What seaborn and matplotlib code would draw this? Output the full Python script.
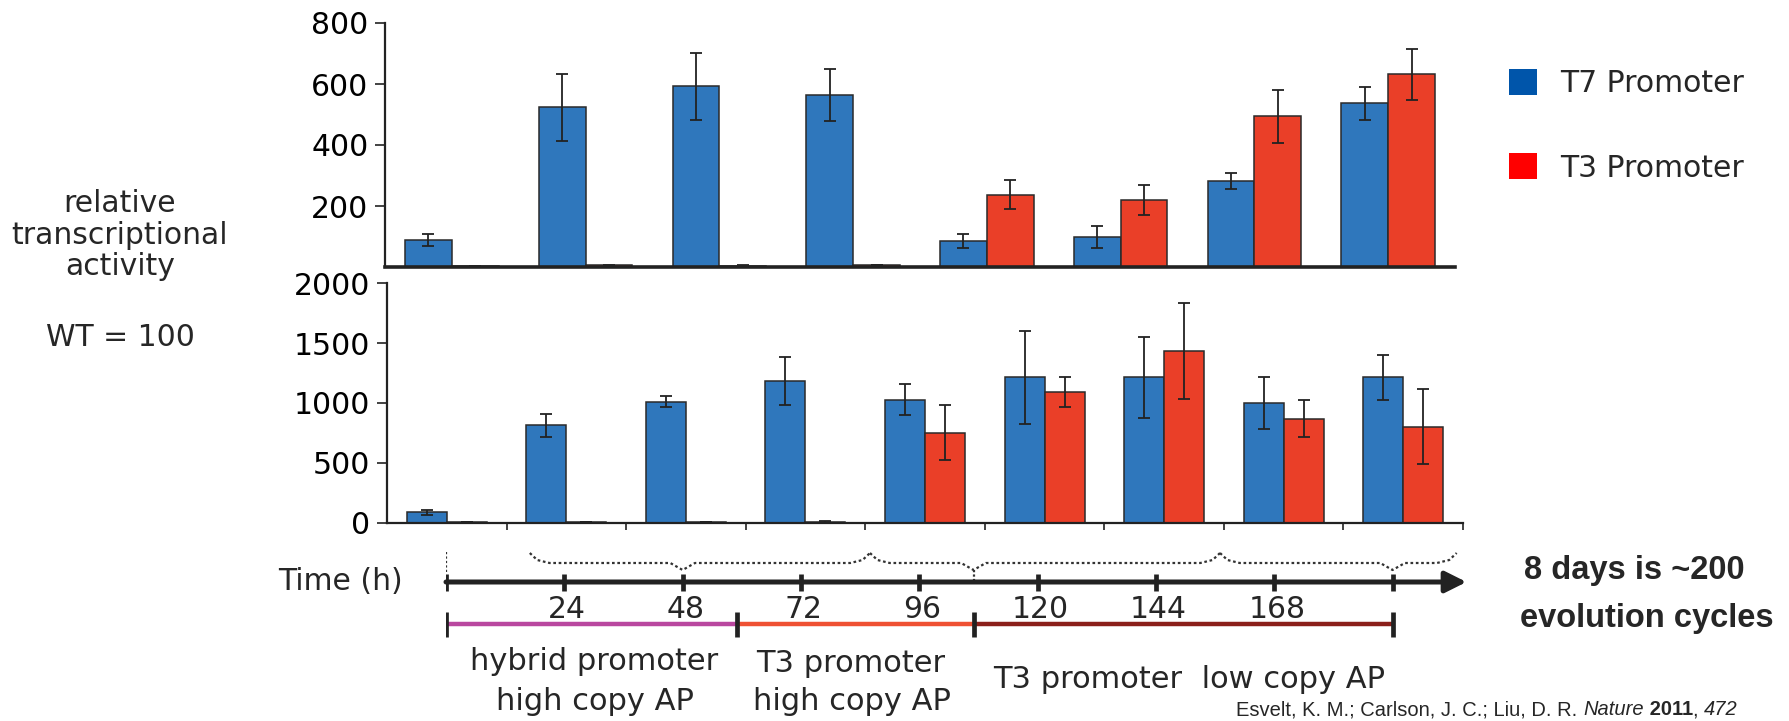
import numpy as np
import pandas as pd
import matplotlib
matplotlib.use('Agg')
import matplotlib.pyplot as plt
from matplotlib.patches import Patch
from matplotlib.text import Annotation
import seaborn as sns

# ---- data ----
top_groups = ['1', '2', '3', '4', '5', '6', '7', '8']
t7_top = [88, 524, 593, 565, 85, 99, 282, 537]
t7_top_err = [20, 110, 110, 85, 23, 37, 25, 54]
t3_top = [2, 5, 3, 7, 237, 219, 494, 632]
t3_top_err = [0, 3, 5, 0, 48, 50, 87, 83]

bot_groups = ['1', '2', '3', '4', '5', '6', '7', '8', '9']
t7_bot = [88, 814, 1010, 1181, 1029, 1214, 1214, 1001, 1214]
t7_bot_err = [23, 95, 47, 200, 130, 385, 340, 215, 187]
t3_bot = [5, 10, 10, 12, 753, 1090, 1437, 869, 803]
t3_bot_err = [0, 0, 0, 8, 228, 127, 400, 156, 313]

series = ['T7 Promoter', 'T3 Promoter']
bar_colors = {'T7 Promoter': '#2f77bc', 'T3 Promoter': '#ea3f28'}
legend_colors = ['#0055aa', '#ff0000']

time_ticks = [24, 48, 72, 96, 120, 144, 168]
# (start h, end h, colour) of the promoter / copy-number phases
phases = [(0, 59, '#b9479f'), (59, 107, '#ef5133'), (107, 192, '#8b1f1a')]
# dotted braces above the time axis: (start, tip, end) in hours
braces = [(17, 48, 86), (86, 107, 157), (157, 192, 205)]

W, H = 1790, 721


def px(x, y):
    return x / W, 1 - y / H


sns.set_style('white')
plt.rcParams['font.family'] = ['DejaVu Sans']
plt.rcParams['font.size'] = 21.5

fig = plt.figure(figsize=(W / 100, H / 100), dpi=100)


def bar_panel(rect, groups, t7, t7e, t3, t3e, width):
    ax = fig.add_axes(rect)
    df = pd.DataFrame({
        'group': groups * 2,
        'promoter': [series[0]] * len(groups) + [series[1]] * len(groups),
        'value': t7 + t3,
    })
    sns.barplot(data=df, x='group', y='value', hue='promoter', order=groups,
                hue_order=series, palette=bar_colors, width=width, saturation=1,
                errorbar=None, edgecolor='#2a2a2a', linewidth=1.1,
                legend=False, ax=ax)
    for cont, errs in zip(ax.containers, [t7e, t3e]):
        xs = [b.get_x() + b.get_width() / 2 for b in cont]
        hs = [b.get_height() for b in cont]
        ax.errorbar(xs, hs, yerr=errs, fmt='none', ecolor='#222222',
                    elinewidth=1.3, capsize=4, capthick=1.3, zorder=5)
    ax.set_xlabel('')
    ax.set_ylabel('')
    ax.set_xlim(-0.5, len(groups) - 0.5)
    sns.despine(ax=ax)
    for s in ['left', 'bottom']:
        ax.spines[s].set_color('#222222')
    ax.tick_params(axis='y', direction='out', length=7, width=1.2, pad=5,
                   labelsize=21.5, left=True, colors='#222222', labelcolor='black')
    return ax


# top panel
l, b = px(385, 267)
ax1 = bar_panel([l, b, (1455 - 385) / W, (267 - 23) / H], top_groups,
                t7_top, t7_top_err, t3_top, t3_top_err, 0.7)
ax1.set_ylim(0, 800)
ax1.set_yticks([200, 400, 600, 800])
ax1.set_xticks([])
ax1.spines['left'].set_linewidth(1.6)
ax1.spines['bottom'].set_linewidth(2.6)

# bottom panel
l, b = px(387, 523)
ax2 = bar_panel([l, b, (1463 - 387) / W, (523 - 283) / H], bot_groups,
                t7_bot, t7_bot_err, t3_bot, t3_bot_err, 0.67)
ax2.set_ylim(0, 2000)
ax2.set_yticks([0, 500, 1000, 1500, 2000])
ax2.set_xticks(np.arange(len(bot_groups)) + 0.5)
ax2.set_xticklabels([])
ax2.tick_params(axis='x', direction='out', length=5, width=1.2, bottom=True,
                colors='#222222')
ax2.spines['left'].set_linewidth(1.6)
ax2.spines['bottom'].set_linewidth(1.6)

# legend
handles = [Patch(facecolor=c, edgecolor='none', label=s)
           for c, s in zip(legend_colors, series)]
fig.legend(handles=handles, loc='upper left', bbox_to_anchor=px(1509, 69),
           frameon=False, fontsize=21.5, handlelength=0.95, handleheight=0.95,
           handletextpad=0.75, labelspacing=1.85, borderpad=0, borderaxespad=0)

# left label
fig.text(*px(120, 235), 'relative\ntranscriptional\nactivity', ha='center',
         va='center', fontsize=21.5, linespacing=1.12)
fig.text(*px(120, 338), 'WT = 100', ha='center', va='center', fontsize=21.5)

# time axis
hpx = 4.93  # pixels per hour
tl, tb = px(446, 645)
axt = fig.add_axes([tl, tb, 210 * hpx / W, 105 / H])
axt.set_xlim(0, 210)
axt.set_ylim(645, 540)
axt.axis('off')

axt.annotate('', xy=(207, 582), xytext=(0, 582),
             arrowprops=dict(arrowstyle='-|>', lw=3.6, color='#222222',
                             mutation_scale=32, shrinkA=0, shrinkB=0))
for h in [0] + time_ticks + [192]:
    axt.plot([h, h], [574, 591], color='#222222', lw=3.4, solid_capstyle='butt')
for h in time_ticks:
    axt.text(h + 0.5, 610, str(h), ha='center', va='center', fontsize=21.5)

for a, e, c in phases:
    axt.plot([a, e], [624, 624], color=c, lw=3.2, solid_capstyle='butt')
for h in [0, 59, 107, 192]:
    axt.plot([h, h], [612, 637], color='#222222', lw=3.4, solid_capstyle='butt')

# dotted braces
axt.plot([0, 0], [552, 574], color='#333333', lw=1.6, ls=(0, (1, 1)))
for s, t, e in braces:
    xs = [s, s + 1.5, s + 4, t - 2.5, t, t + 2.5, e - 4, e - 1.5, e]
    ys = [553, 560, 563, 563, 570, 563, 563, 560, 553]
    axt.plot(xs, ys, color='#333333', lw=1.6, ls=(0, (1.2, 1.2)))
axt.plot([107, 107], [570, 580], color='#333333', lw=1.6, ls=(0, (1, 1)))

fig.text(*px(403, 582), 'Time (h)', ha='right', va='center', fontsize=21.5)

fig.text(*px(594, 662), 'hybrid promoter', ha='center', va='center', fontsize=22)
fig.text(*px(595, 701), 'high copy AP', ha='center', va='center', fontsize=22)
fig.text(*px(851, 663), 'T3 promoter', ha='center', va='center', fontsize=22)
fig.text(*px(852, 702), 'high copy AP', ha='center', va='center', fontsize=22)
fig.text(*px(1189, 679), 'T3 promoter  low copy AP', ha='center', va='center',
         fontsize=22)

fig.text(*px(1634, 570), '8 days is ~200', ha='center', va='center',
         fontsize=23.5, fontweight='bold', family='Liberation Sans')
fig.text(*px(1647, 618), 'evolution cycles', ha='center', va='center',
         fontsize=23.5, fontweight='bold', family='Liberation Sans')

# citation, pieces chained one after the other
cit = dict(fontsize=14.5, family='Liberation Sans')
chain = fig.text(*px(1236, 715), 'Esvelt, K. M.; Carlson, J. C.; Liu, D. R. ',
                 va='baseline', **cit)
for txt, style, weight in [('Nature', 'italic', 'normal'),
                           (' 2011', 'normal', 'bold'),
                           (', ', 'normal', 'normal'),
                           ('472', 'italic', 'normal')]:
    chain = fig.add_artist(Annotation(
        txt, xy=(1, 0), xycoords=chain, va='bottom', ha='left',
        style=style, weight=weight, annotation_clip=False, **cit))

fig.savefig('out.png', dpi=100)
